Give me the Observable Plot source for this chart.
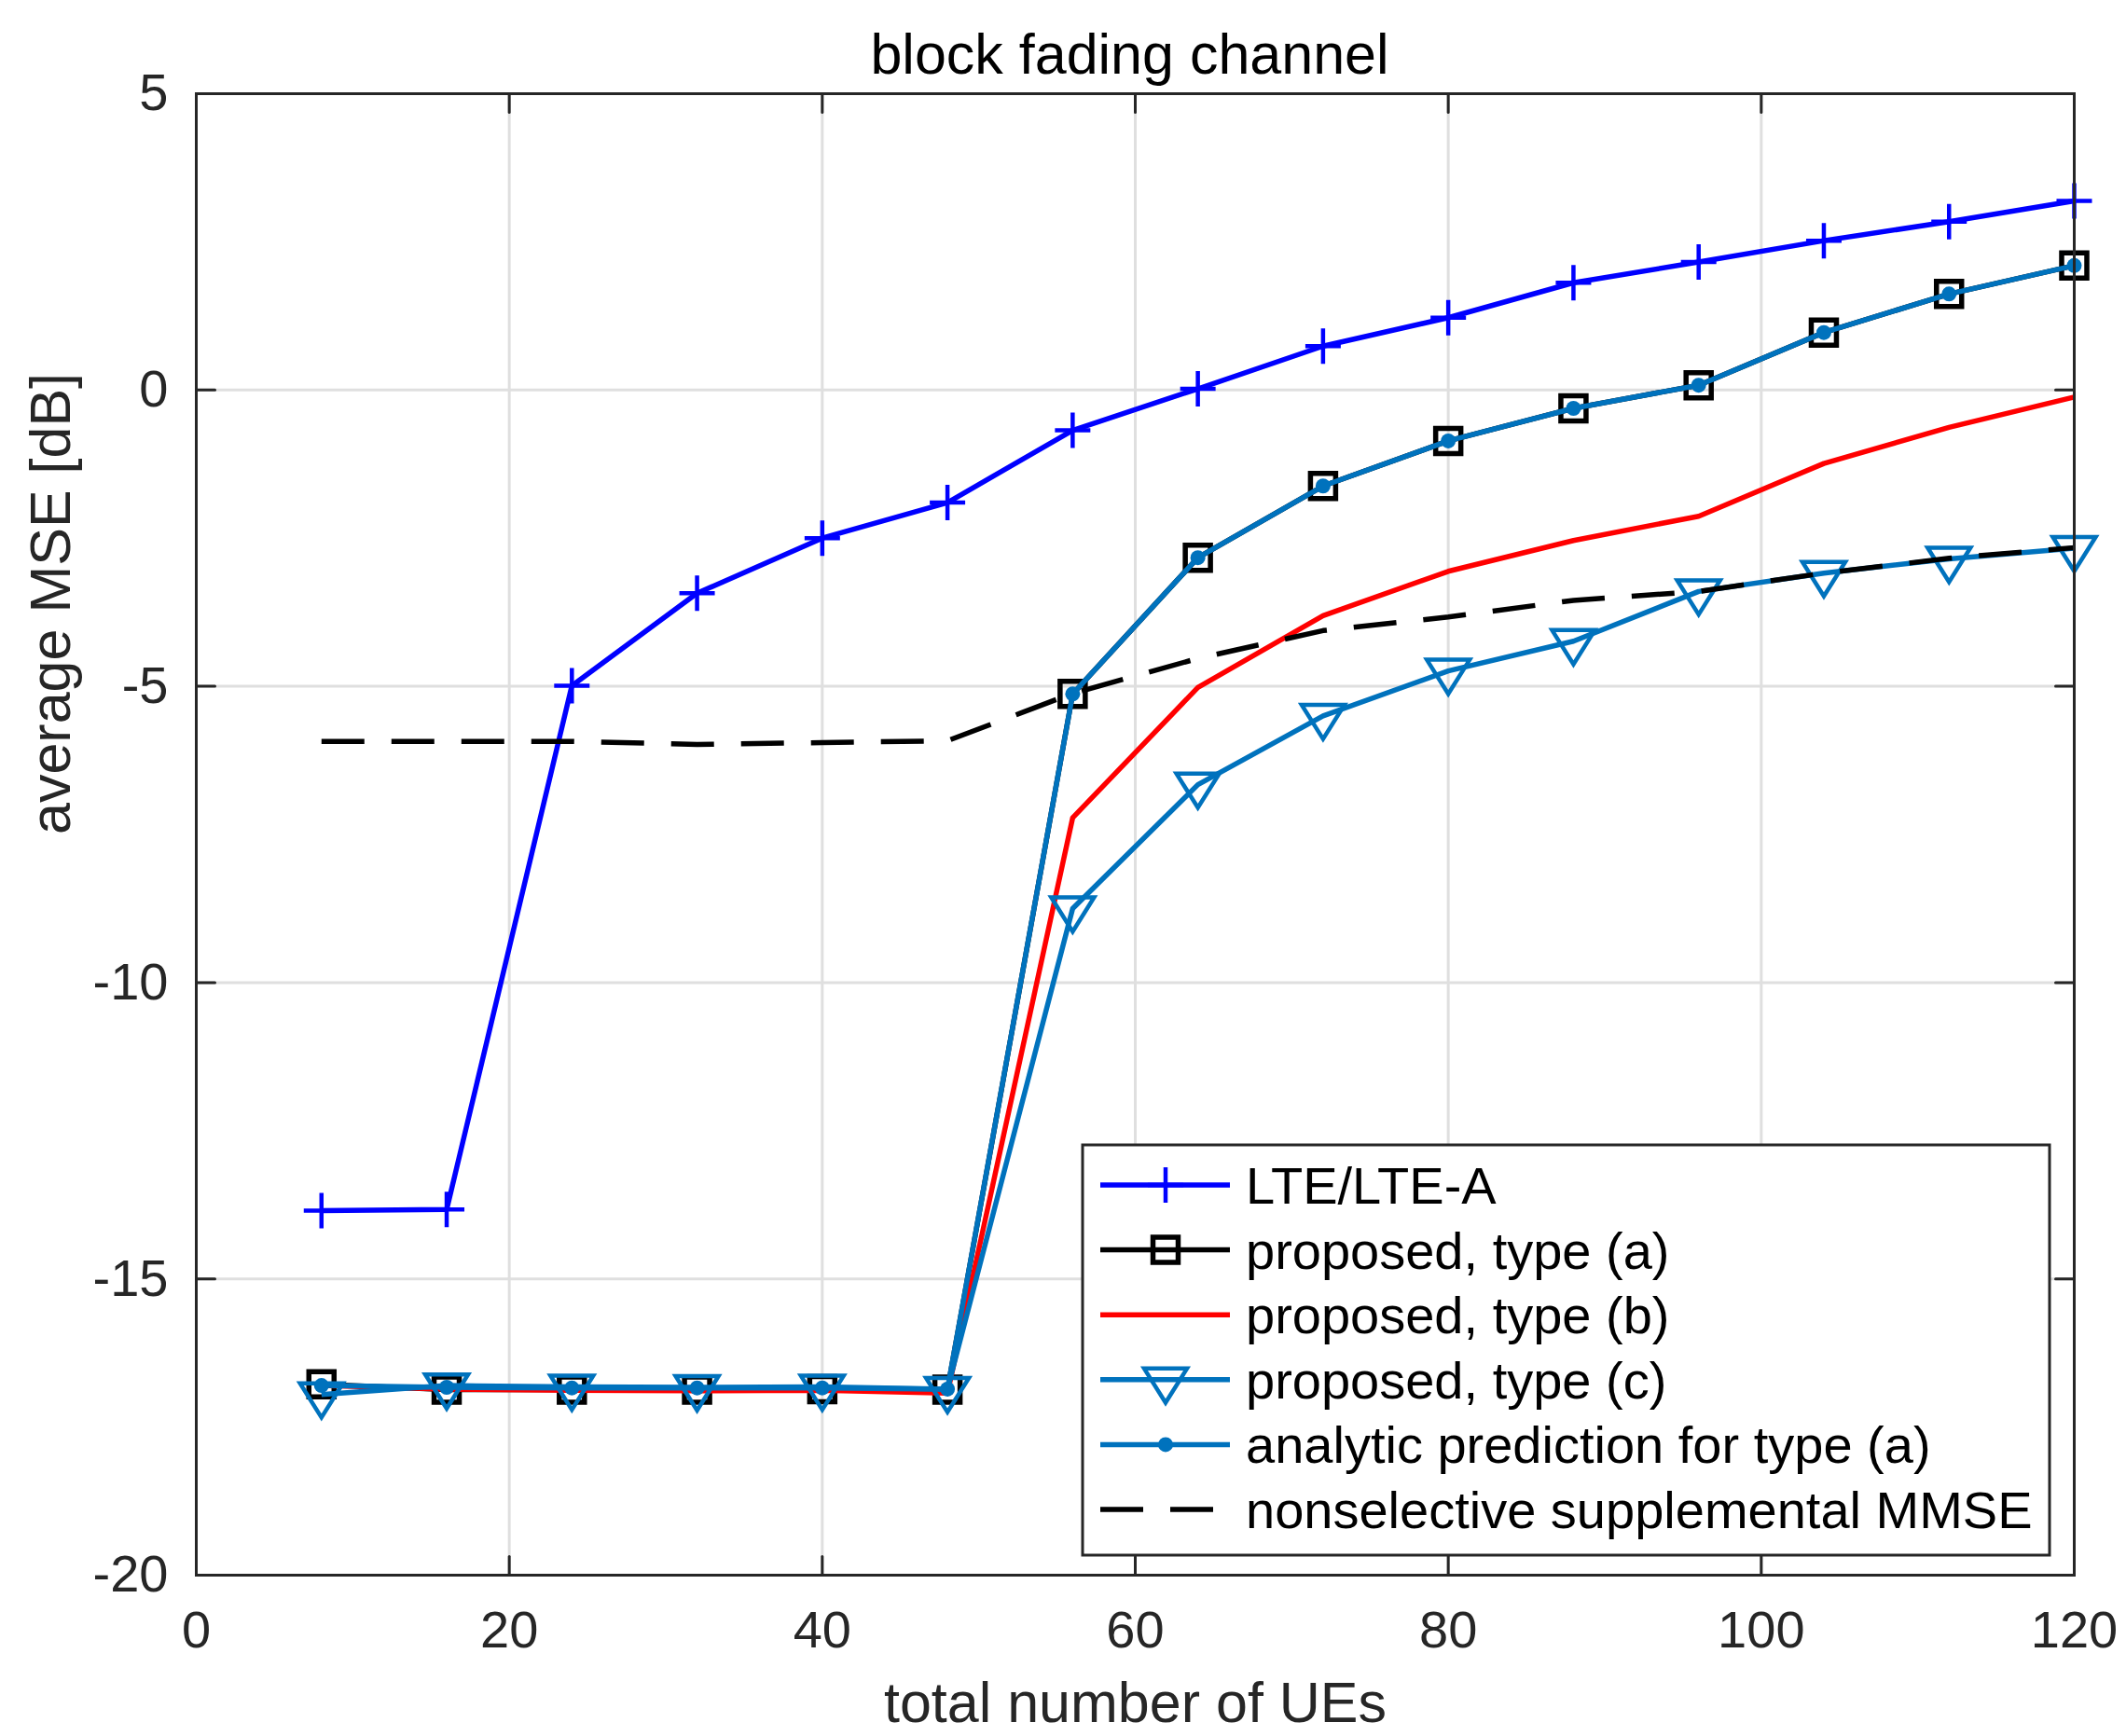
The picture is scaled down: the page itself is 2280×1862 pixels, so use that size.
<!DOCTYPE html>
<html>
<head>
<meta charset="utf-8">
<script src="https://cdn.jsdelivr.net/npm/d3@7"></script>
<script src="https://cdn.jsdelivr.net/npm/@observablehq/plot@0.6"></script>
<style>
  html, body { margin: 0; padding: 0; background: #ffffff; }
  svg { display: block; }
</style>
</head>
<body>
<div id="chart"></div>
<script>
// ---------------- data ----------------
const ues = [8, 16, 24, 32, 40, 48, 56, 64, 72, 80, 88, 96, 104, 112, 120];
const lte      = [-13.85, -13.83, -4.99, -3.43, -2.50, -1.90, -0.68, 0.02, 0.74, 1.22, 1.81, 2.16, 2.52, 2.84, 3.19];
const typeA    = [-16.78, -16.87, -16.87, -16.87, -16.86, -16.87, -5.13, -2.83, -1.62, -0.86, -0.31, 0.08, 0.97, 1.62, 2.10];
const typeB    = [-16.80, -16.86, -16.88, -16.89, -16.88, -16.93, -7.22, -5.02, -3.81, -3.06, -2.54, -2.13, -1.24, -0.63, -0.12];
const typeC    = [-16.95, -16.80, -16.82, -16.83, -16.82, -16.86, -8.75, -6.66, -5.50, -4.74, -4.24, -3.40, -3.09, -2.85, -2.67];
const analytic = [-16.80, -16.83, -16.84, -16.84, -16.84, -16.86, -5.13, -2.83, -1.62, -0.86, -0.31, 0.08, 0.97, 1.62, 2.10];
const mmse     = [-5.93, -5.93, -5.93, -5.98, -5.95, -5.92, -5.12, -4.53, -4.06, -3.83, -3.55, -3.40, -3.09, -2.84, -2.66];

const xTicks = [0, 20, 40, 60, 80, 100, 120];
const yTicks = [-20, -15, -10, -5, 0, 5];
const seriesNames = [
  "LTE/LTE-A",
  "proposed, type (a)",
  "proposed, type (b)",
  "proposed, type (c)",
  "analytic prediction for type (a)",
  "nonselective supplemental MMSE"
];
const titleText = "block fading channel";
const xLabel = "total number of UEs";
const yLabel = "average MSE [dB]";

// ---------------- styling ----------------
const FONT = "'Liberation Sans', Arial, Helvetica, sans-serif";
const BLUE = "#0000ff", BLACK = "#000000", RED = "#ff0000", MBLUE = "#0072bd";
const AXIS = "#262626", GRID = "#dfdfdf";
const LW = 5.5;

// custom MATLAB-like marker symbols (size = pi * r^2)
const plusSym = { draw(ctx, size) { const r = Math.sqrt(size / Math.PI);
  ctx.moveTo(-r, 0); ctx.lineTo(r, 0); ctx.moveTo(0, -r); ctx.lineTo(0, r); } };
const squareSym = { draw(ctx, size) { const r = Math.sqrt(size / Math.PI);
  ctx.moveTo(-r, -r); ctx.lineTo(r, -r); ctx.lineTo(r, r); ctx.lineTo(-r, r); ctx.closePath(); } };
const triDownSym = { draw(ctx, size) { const r = Math.sqrt(size / Math.PI);
  ctx.moveTo(-1.21 * r, -0.63 * r); ctx.lineTo(1.21 * r, -0.63 * r); ctx.lineTo(0, 1.3 * r); ctx.closePath(); } };
const tickShape = { draw(ctx, l) { ctx.moveTo(0, 0); ctx.lineTo(0, -l); } };

const rows = ys => ues.map((x, i) => ({x, y: ys[i]}));

const lineOpts = (stroke, extra = {}) => ({x: "x", y: "y", stroke, strokeWidth: LW, strokeLinejoin: "round", strokeLinecap: "butt", ...extra});
const fmt = d => String(d);

const plot = Plot.plot({
  width: 2280,
  height: 1862,
  marginLeft: 210,
  marginRight: 56,
  marginTop: 100,
  marginBottom: 173,
  style: {fontFamily: FONT, fontSize: "56px", color: AXIS, background: "#ffffff", overflow: "visible"},
  x: {domain: [0, 120]},
  y: {domain: [-20, 5]},
  marks: [
    Plot.gridX(xTicks, {stroke: GRID, strokeOpacity: 1, strokeWidth: 3}),
    Plot.gridY(yTicks, {stroke: GRID, strokeOpacity: 1, strokeWidth: 3}),

    // LTE/LTE-A
    Plot.line(rows(lte), lineOpts(BLUE)),
    Plot.dot(rows(lte), {x: "x", y: "y", symbol: plusSym, r: 19, stroke: BLUE, strokeWidth: 4.5, fill: "none"}),
    // proposed (a)
    Plot.line(rows(typeA), lineOpts(BLACK)),
    Plot.dot(rows(typeA), {x: "x", y: "y", symbol: squareSym, r: 13.5, stroke: BLACK, strokeWidth: 5.5, fill: "none"}),
    // proposed (b)
    Plot.line(rows(typeB), lineOpts(RED)),
    // proposed (c)
    Plot.line(rows(typeC), lineOpts(MBLUE)),
    Plot.dot(rows(typeC), {x: "x", y: "y", symbol: triDownSym, r: 19, stroke: MBLUE, strokeWidth: 4.5, fill: "none", strokeLinejoin: "miter"}),
    // analytic prediction (a)
    Plot.line(rows(analytic), lineOpts(MBLUE)),
    Plot.dot(rows(analytic), {x: "x", y: "y", r: 8, fill: MBLUE, stroke: "none"}),
    // nonselective supplemental MMSE
    Plot.line(rows(mmse), lineOpts(BLACK, {strokeDasharray: "46,29"})),

    // axes tick labels
    Plot.axisX(xTicks, {anchor: "bottom", tickSize: 0, tickPadding: 38, fontSize: 56, fill: AXIS, label: null, tickFormat: fmt}),
    Plot.axisY(yTicks, {anchor: "left", tickSize: 0, tickPadding: 30, fontSize: 56, fill: AXIS, label: null, tickFormat: fmt}),

    // inward ticks on all four sides
    Plot.vector(xTicks, {x: d => d, frameAnchor: "bottom", length: 20, rotate: 0, anchor: "start", shape: tickShape, stroke: AXIS, strokeWidth: 3}),
    Plot.vector(xTicks, {x: d => d, frameAnchor: "top", length: 20, rotate: 180, anchor: "start", shape: tickShape, stroke: AXIS, strokeWidth: 3}),
    Plot.vector(yTicks, {y: d => d, frameAnchor: "left", length: 20, rotate: 90, anchor: "start", shape: tickShape, stroke: AXIS, strokeWidth: 3}),
    Plot.vector(yTicks, {y: d => d, frameAnchor: "right", length: 20, rotate: 270, anchor: "start", shape: tickShape, stroke: AXIS, strokeWidth: 3}),

    Plot.frame({stroke: AXIS, strokeWidth: 3}),

    // title and axis labels
    Plot.text([titleText], {frameAnchor: "top", lineAnchor: "bottom", dy: -22, dx: -6, fontSize: 61, fill: BLACK}),
    Plot.text([xLabel], {frameAnchor: "bottom", lineAnchor: "bottom", dy: 157, fontSize: 61, fill: AXIS}),
    Plot.text([yLabel], {frameAnchor: "left", lineAnchor: "bottom", rotate: -90, dx: -136, fontSize: 61, fill: AXIS})
  ]
});

document.getElementById("chart").appendChild(plot);

// ---------------- legend ----------------
const svg = d3.select(plot);
const lg = svg.append("g").attr("class", "legend")
  .attr("font-family", FONT).attr("font-size", 56).attr("text-anchor", "start");
const box = {x: 1161, y: 1228, w: 1037, h: 440};
lg.append("rect").attr("x", box.x).attr("y", box.y).attr("width", box.w).attr("height", box.h)
  .attr("fill", "#ffffff").attr("stroke", AXIS).attr("stroke-width", 3);

const legendSpec = [
  {stroke: BLUE, dash: null, sym: plusSym, r: 19, sw: 4.5, fill: "none"},
  {stroke: BLACK, dash: null, sym: squareSym, r: 13.5, sw: 5.5, fill: "none"},
  {stroke: RED, dash: null, sym: null},
  {stroke: MBLUE, dash: null, sym: triDownSym, r: 19, sw: 4.5, fill: "none"},
  {stroke: MBLUE, dash: null, sym: d3.symbolCircle, r: 8, sw: 0, fill: MBLUE},
  {stroke: BLACK, dash: "46,29", sym: null}
];
const rowY0 = 1271, rowStep = 69.6, x0 = 1180, x1 = 1319, xm = 1250, tx = 1336;
seriesNames.forEach((name, i) => {
  const s = legendSpec[i];
  const cy = rowY0 + i * rowStep;
  lg.append("line").attr("x1", x0).attr("x2", x1).attr("y1", cy).attr("y2", cy)
    .attr("stroke", s.stroke).attr("stroke-width", LW)
    .attr("stroke-dasharray", s.dash);
  if (s.sym) {
    lg.append("path")
      .attr("d", d3.symbol(s.sym, Math.PI * s.r * s.r)())
      .attr("transform", `translate(${xm},${cy})`)
      .attr("fill", s.fill)
      .attr("stroke", s.sw ? s.stroke : "none")
      .attr("stroke-width", s.sw)
      .attr("stroke-linejoin", "miter");
  }
  lg.append("text").attr("x", tx).attr("y", cy + 20).attr("fill", BLACK)
    .attr("text-anchor", "start").text(name);
});
</script>
</body>
</html>
